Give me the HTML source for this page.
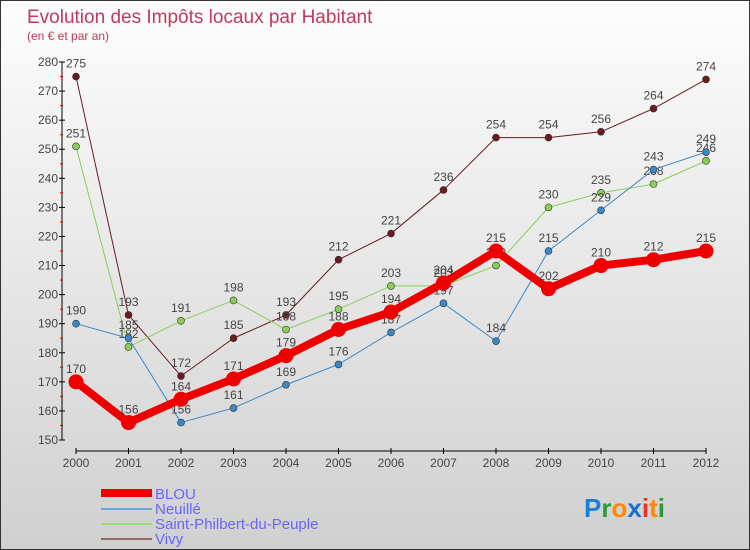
<!DOCTYPE html>
<html><head><meta charset="utf-8"><style>
body{margin:0;}
#c{position:relative;width:748px;height:548px;border:1px solid #333;background:linear-gradient(#fdfdfd,#d0d0d0);font-family:"Liberation Sans",sans-serif;overflow:hidden}
svg text{font-family:"Liberation Sans",sans-serif}
</style></head><body>
<div id="c">
<svg id="s" width="748" height="548">
<text x="26" y="22" font-size="19" fill="#c0395e">Evolution des Impôts locaux par Habitant</text>
<text x="26" y="39" font-size="12" fill="#c0395e">(en € et par an)</text>
<g id="axes"></g><g id="series"></g>
<g>
<line x1="100" y1="492" x2="151" y2="492" stroke="#ee0000" stroke-width="8"/>
<text x="154" y="498" font-size="15" fill="#6666ff">BLOU</text>
<line x1="100" y1="508" x2="151" y2="508" stroke="#6aa8d0" stroke-width="2"/>
<text x="154" y="513" font-size="15" fill="#6666ff">Neuillé</text>
<line x1="100" y1="523" x2="151" y2="523" stroke="#99dd77" stroke-width="2"/>
<text x="154" y="528" font-size="15" fill="#6666ff">Saint-Philbert-du-Peuple</text>
<line x1="100" y1="538" x2="151" y2="538" stroke="#996666" stroke-width="2"/>
<text x="154" y="543" font-size="15" fill="#6666ff">Vivy</text>
</g>
<g font-size="26" font-weight="bold">
<text x="583" y="516"><tspan fill="#1a7fd6">P</tspan><tspan fill="#2a9a3a">r</tspan><tspan fill="#ff8800">o</tspan><tspan fill="#1a6fd0">x</tspan><tspan fill="#ee3322">i</tspan><tspan fill="#ff8800">t</tspan><tspan fill="#2a9a3a">i</tspan></text>
</g>
</svg></div>
<script>
const years=["2000","2001","2002","2003","2004","2005","2006","2007","2008","2009","2010","2011","2012"];
const yTicks=[150,160,170,180,190,200,210,220,230,240,250,260,270,280];
const blou=[170,156,164,171,179,188,194,204,215,202,210,212,215];
const neuille=[190,185,156,161,169,176,187,197,184,215,229,243,249];
const stPhilbert=[251,182,191,198,188,195,203,203,210,230,235,238,246];
const vivy=[275,193,172,185,193,212,221,236,254,254,256,264,274];
const NS="http://www.w3.org/2000/svg";
const X=i=>75+i*52.5;
const Y=v=>439-(v-150)*(378/130);
function mk(tag,attrs,parent){const e=document.createElementNS(NS,tag);for(const k in attrs)e.setAttribute(k,attrs[k]);parent.appendChild(e);return e;}
const ax=document.getElementById('axes');
const yl=mk('line',{x1:61,y1:Y(280),x2:61,y2:Y(150),stroke:'#000'},ax);


const xl=mk('line',{x1:75,y1:450,x2:705,y2:450,stroke:'#000'},ax);


yTicks.forEach((t,i)=>{
  mk('line',{x1:58,x2:64,y1:Y(t),y2:Y(t),stroke:'#000'},ax);
  if(i<yTicks.length-1)mk('line',{x1:59,x2:62,y1:Y(t+5),y2:Y(t+5),stroke:'#e00'},ax);
  const tx=mk('text',{x:57,y:Y(t)+4,'font-size':12,fill:'#444','text-anchor':'end'},ax);tx.textContent=t;
  
  
});
years.forEach((y,i)=>{
  mk('line',{x1:X(i),x2:X(i),y1:447,y2:453,stroke:'#000'},ax);
  const tx=mk('text',{x:X(i),y:466,'font-size':12,fill:'#444','text-anchor':'middle'},ax);tx.textContent=y;
  
  
});
const sg=document.getElementById('series');
function draw(data,color,w,r,name){
  const g=mk('g',{},sg);
  
  
  mk('polyline',{points:data.map((v,i)=>X(i)+','+Y(v)).join(' '),fill:'none',stroke:color,'stroke-width':w,'stroke-linejoin':'round'},g);
  data.forEach((v,i)=>{
    const c=mk('circle',{cx:X(i),cy:Y(v),r:r,fill:color,stroke:'#333','stroke-width':r>4?0:0.6},g);
    
    
    const t=mk('text',{x:X(i),y:Y(v)-9,'font-size':12,fill:'#444','text-anchor':'middle'},g);t.textContent=v;
  });
}
draw(vivy,'#6b1a1f',1,3.5,'series-vivy');
draw(stPhilbert,'#88d055',1,3.5,'series-saint-philbert');
draw(neuille,'#3a88c8',1,3.5,'series-neuille');
draw(blou,'#ee0000',8,7.5,'series-blou');
</script>
</body></html>
